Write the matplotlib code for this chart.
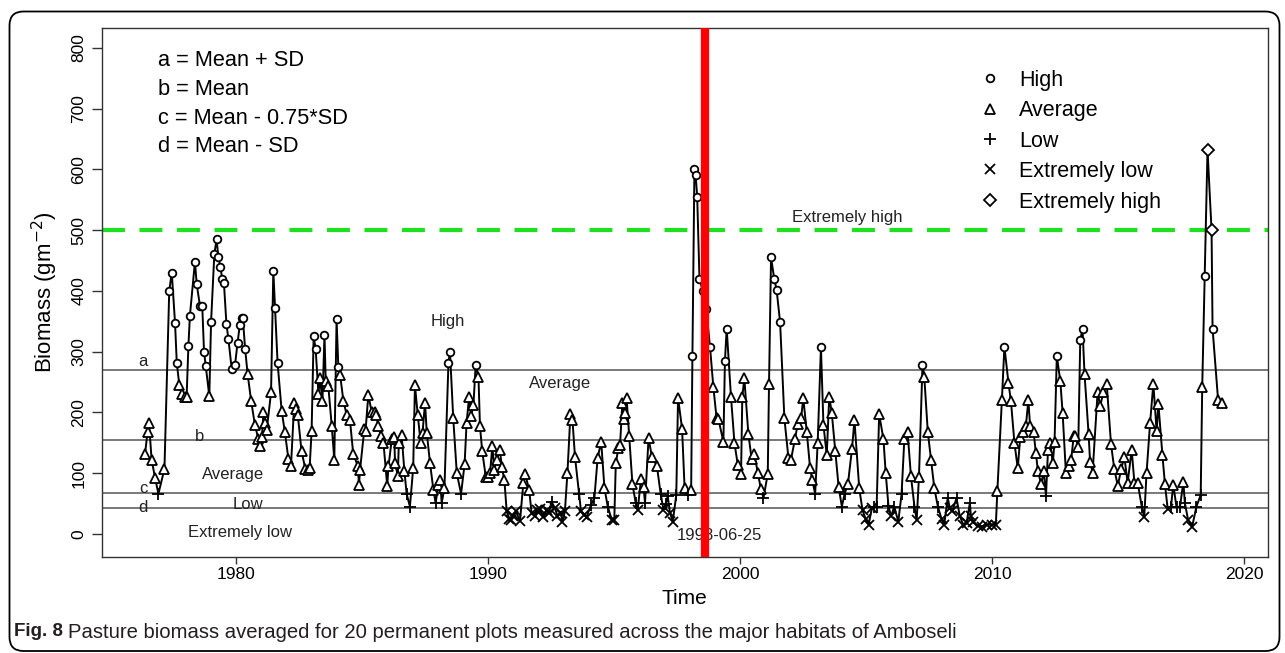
import matplotlib
matplotlib.use('Agg')
import matplotlib.pyplot as plt
from matplotlib.patches import FancyBboxPatch
from matplotlib.lines import Line2D
from matplotlib.transforms import IdentityTransform

plt.rcParams['font.family'] = ['Liberation Sans', 'DejaVu Sans']

# ---------------- data ----------------
years = [
    1976.39, 1976.49, 1976.55, 1976.65, 1976.79, 1976.92, 1977.16, 1977.35, 1977.45, 1977.58,
    1977.65, 1977.75, 1977.87, 1977.98, 1978.04, 1978.11, 1978.17, 1978.37, 1978.44, 1978.57,
    1978.66, 1978.73, 1978.80, 1978.94, 1979.01, 1979.14, 1979.23, 1979.30, 1979.38, 1979.45,
    1979.52, 1979.62, 1979.70, 1979.83, 1979.96, 1980.06, 1980.15, 1980.22, 1980.27, 1980.36,
    1980.46, 1980.60, 1980.75, 1980.89, 1980.95, 1981.03, 1981.09, 1981.15, 1981.22, 1981.39,
    1981.48, 1981.55, 1981.65, 1981.81, 1981.94, 1982.08, 1982.18, 1982.31, 1982.38, 1982.45,
    1982.60, 1982.75, 1982.85, 1982.92, 1983.00, 1983.08, 1983.16, 1983.27, 1983.33, 1983.43,
    1983.51, 1983.56, 1983.66, 1983.80, 1983.90, 1983.99, 1984.06, 1984.13, 1984.26, 1984.39,
    1984.52, 1984.65, 1984.83, 1984.88, 1984.92,
    1985.09, 1985.14, 1985.25, 1985.38, 1985.51, 1985.56, 1985.65, 1985.75, 1985.85, 1986.00,
    1986.05, 1986.18, 1986.28, 1986.31, 1986.42, 1986.46, 1986.57, 1986.68, 1986.77, 1986.90,
    1987.03, 1987.10, 1987.21, 1987.33, 1987.40, 1987.50, 1987.57, 1987.70, 1987.83, 1987.92,
    1988.03, 1988.10, 1988.16, 1988.27, 1988.43, 1988.49, 1988.62, 1988.76, 1988.93, 1989.07,
    1989.15, 1989.25, 1989.33, 1989.42, 1989.51, 1989.62, 1989.68, 1989.77, 1989.91, 1989.99,
    1990.08, 1990.17, 1990.25, 1990.34, 1990.47, 1990.55, 1990.65, 1990.74, 1990.85, 1990.92,
    1991.00, 1991.10, 1991.27, 1991.40, 1991.47, 1991.63, 1991.73, 1991.87, 1991.95, 1992.06,
    1992.19, 1992.33, 1992.42, 1992.52, 1992.66, 1992.75, 1992.89, 1992.95, 1993.05, 1993.15,
    1993.27, 1993.35, 1993.45,
    1993.61, 1993.69, 1993.82, 1993.91, 1994.09, 1994.22, 1994.35, 1994.49, 1994.62, 1994.75,
    1994.91, 1995.01, 1995.07, 1995.17, 1995.24, 1995.33, 1995.40, 1995.44, 1995.50, 1995.60,
    1995.73, 1995.86, 1995.94, 1996.07, 1996.17, 1996.23, 1996.37, 1996.50, 1996.70, 1996.85,
    1996.96, 1997.05, 1997.13, 1997.22, 1997.33, 1997.47, 1997.54, 1997.70, 1997.80, 1997.93,
    1998.06, 1998.11, 1998.19, 1998.24, 1998.30, 1998.39, 1998.52, 1998.66, 1998.81, 1998.94,
    1999.07, 1999.14, 1999.34, 1999.40, 1999.47, 1999.64, 1999.78, 1999.91, 2000.04, 2000.09,
    2000.17, 2000.33, 2000.46, 2000.57, 2000.70, 2000.83, 2000.93,
    2001.10, 2001.15, 2001.23, 2001.36, 2001.45, 2001.59, 2001.76, 2001.92, 2002.02, 2002.18,
    2002.29, 2002.42, 2002.51, 2002.65, 2002.78, 2002.87, 2002.98, 2003.08, 2003.21, 2003.31,
    2003.44, 2003.54, 2003.64, 2003.78, 2003.91, 2004.04, 2004.15, 2004.28, 2004.44, 2004.54,
    2004.73, 2004.86, 2004.98, 2005.10, 2005.23, 2005.32, 2005.42, 2005.52, 2005.69, 2005.78,
    2005.89, 2005.99, 2006.12, 2006.28, 2006.41, 2006.52, 2006.65, 2006.78, 2006.92, 2007.01,
    2007.10, 2007.24, 2007.31, 2007.45, 2007.58, 2007.71, 2007.85, 2008.00, 2008.10, 2008.24,
    2008.33, 2008.42, 2008.59, 2008.72, 2008.86, 2008.99, 2009.12, 2009.16, 2009.26, 2009.43,
    2009.59, 2009.79, 2009.99, 2010.15,
    2010.21, 2010.39, 2010.49, 2010.65, 2010.75, 2010.89, 2011.02, 2011.12, 2011.24, 2011.34,
    2011.44, 2011.51, 2011.65, 2011.74, 2011.82, 2011.95, 2012.05, 2012.14, 2012.22, 2012.31,
    2012.41, 2012.48, 2012.57, 2012.71, 2012.80, 2012.93, 2013.04, 2013.14, 2013.24, 2013.30,
    2013.42, 2013.50, 2013.59, 2013.67, 2013.83, 2013.89, 2013.99, 2014.19, 2014.29, 2014.42,
    2014.55, 2014.72, 2014.85, 2014.99, 2015.12, 2015.25, 2015.38, 2015.54, 2015.65, 2015.78,
    2015.94, 2016.04, 2016.13, 2016.27, 2016.40, 2016.53, 2016.60, 2016.76, 2016.86, 2016.97,
    2017.10, 2017.19, 2017.32, 2017.46, 2017.59, 2017.65, 2017.78, 2017.94, 2018.11, 2018.28,
    2018.34, 2018.44, 2018.55, 2018.71, 2018.75, 2018.97, 2019.12,
]
biomass = [
    132, 168, 182, 122, 92, 66, 107, 400, 430, 347,
    281, 245, 230, 226, 226, 309, 359, 448, 411, 375,
    375, 300, 276, 227, 349, 461, 485, 455, 440, 420,
    413, 345, 320, 271, 278, 314, 344, 356, 355, 305,
    263, 219, 179, 156, 145, 160, 201, 183, 171, 233,
    433, 371, 281, 203, 167, 123, 111, 216, 205, 196,
    136, 107, 105, 108, 170, 325, 304, 231, 256, 219,
    327, 251, 244, 177, 122, 353, 275, 262, 219, 196,
    188, 132, 112, 81, 105,
    172, 170, 229, 201, 201, 196, 177, 161, 150, 79,
    111, 156, 160, 116, 96, 149, 163, 104, 66, 45,
    108, 245, 196, 149, 166, 216, 166, 116, 73, 51,
    80, 89, 51, 75, 282, 300, 190, 100, 66, 115,
    183, 226, 194, 212, 278, 259, 177, 136, 94, 94,
    100, 144, 105, 122, 138, 110, 88, 37, 25, 23,
    30, 37, 22, 83, 99, 73, 34, 29, 40, 41,
    28, 40, 35, 53, 42, 30, 35, 20, 37, 100,
    197, 188, 127,
    66, 37, 31, 28, 48, 59, 125, 152, 75, 45,
    23, 23, 116, 141, 147, 216, 189, 199, 223, 161,
    82, 51, 40, 90, 77, 51, 158, 127, 112, 66,
    40, 50, 62, 35, 20, 64, 224, 173, 75, 64,
    73, 292, 601, 590, 555, 420, 400, 370, 307, 242,
    190, 189, 152, 284, 338, 226, 149, 114, 98, 226,
    256, 165, 123, 132, 101, 74, 59,
    99, 247, 455, 419, 402, 348, 190, 125, 122, 156,
    181, 190, 223, 167, 108, 88, 66, 149, 307, 179,
    130, 226, 199, 136, 78, 45, 66, 82, 139, 187,
    75, 39, 25, 15, 42, 44, 45, 197, 156, 100,
    46, 29, 45, 20, 66, 156, 167, 96, 45, 23,
    94, 278, 259, 168, 122, 75, 45, 24, 15, 59,
    42, 37, 59, 29, 15, 18, 51, 29, 19, 13,
    12, 15, 15, 15,
    70, 220, 308, 249, 218, 149, 108, 160, 168, 177,
    220, 177, 167, 133, 103, 82, 103, 62, 138, 149,
    116, 152, 293, 251, 199, 101, 111, 122, 161, 161,
    143, 319, 337, 263, 165, 119, 101, 234, 210, 234,
    247, 148, 107, 79, 106, 127, 84, 138, 84, 84,
    45, 28, 100, 182, 247, 169, 214, 130, 82, 41,
    44, 81, 44, 45, 86, 51, 23, 12, 45, 64,
    242, 424, 632, 500, 338, 220, 215,
]
extreme_high_years = [2018.55, 2018.71]   # points drawn with the diamond symbol

level_a = 269      # Mean + SD
level_b = 154      # Mean
level_c = 67.5     # Mean - 0.75*SD
level_d = 43       # Mean - SD
extreme_level = 500
event_year = 1998.62
event_label = '1998-06-25'

categories = ['High', 'Average', 'Low', 'Extremely low', 'Extremely high']
cat_marker = {'High': 'o', 'Average': '^', 'Low': '+', 'Extremely low': 'x', 'Extremely high': 'D'}
cat_size = {'High': 5.5, 'Average': 7, 'Low': 8, 'Extremely low': 6.5, 'Extremely high': 6}


def classify(yr, v):
    if yr in extreme_high_years:
        return 'Extremely high'
    if v > level_a:
        return 'High'
    if v > level_c:
        return 'Average'
    if v > level_d:
        return 'Low'
    return 'Extremely low'


# ---------------- figure ----------------
W, H = 1285, 653
fig = plt.figure(figsize=(W / 100, H / 100), dpi=100)
ax_left, ax_right, ax_top, ax_bottom = 101.7, 1268, 28.3, 557
ax = fig.add_axes([ax_left / W, 1 - ax_bottom / H, (ax_right - ax_left) / W, (ax_bottom - ax_top) / H])

# threshold lines
for lv in [level_a, level_b, level_c, level_d]:
    ax.axhline(lv, color='#555555', lw=1.1, zorder=1)
ax.axhline(extreme_level, color='#1FE01F', lw=3, ls=(0, (5.5, 3.5)), zorder=1)

# series line
ax.plot(years, biomass, color='black', lw=1.4, zorder=2)

# markers by category
cats = [classify(y, v) for y, v in zip(years, biomass)]
for c in categories:
    xs = [y for y, k in zip(years, cats) if k == c]
    vs = [v for v, k in zip(biomass, cats) if k == c]
    ax.plot(xs, vs, ls='none', marker=cat_marker[c], ms=cat_size[c], mfc='white',
            mec='black', mew=1.3, zorder=3)

# event line
ax.axvline(event_year, color='#FF0000', lw=6, zorder=4)

ax.set_xlim(1974.67, 2020.95)
ax.set_ylim(-38, 832)
ax.set_xticks([1980, 1990, 2000, 2010, 2020])
ax.set_yticks([0, 100, 200, 300, 400, 500, 600, 700, 800])
ax.tick_params(axis='both', direction='out', width=1, colors='#333333',
               labelsize=12.5, labelcolor='black')
ax.tick_params(axis='x', length=5, pad=2.5)
ax.tick_params(axis='y', length=7, pad=4)
for lab in ax.get_yticklabels():
    lab.set_rotation(90)
    lab.set_va('center')
for sp in ax.spines.values():
    sp.set_color('#333333')
    sp.set_linewidth(1)

ax.set_xlabel('Time', fontsize=15, labelpad=5)
ax.set_ylabel('Biomass (gm$^{-2}$)', fontsize=16, labelpad=8)

# annotations inside the plot
tkw = dict(fontsize=12, color='#222222', ha='center', va='center')
ax.text(1976.31, 283, 'a', **tkw)
ax.text(1978.57, 161, 'b', **tkw)
ax.text(1976.31, 74, 'c', **tkw)
ax.text(1976.31, 43, 'd', **tkw)
ax.text(1979.88, 97, 'Average', **tkw)
ax.text(1980.48, 48, 'Low', **tkw)
ax.text(1980.16, 2, 'Extremely low', **tkw)
ax.text(1988.41, 349, 'High', **tkw)
ax.text(1992.86, 248, 'Average', **tkw)
ax.text(2004.25, 520, 'Extremely high', **tkw)
ax.text(1999.2, -3, event_label, **tkw)

# definitions (top-left)
defs = ['a = Mean + SD', 'b = Mean', 'c = Mean - 0.75*SD', 'd = Mean - SD']
for i, s in enumerate(defs):
    ax.text((158 - ax_left) / (ax_right - ax_left), (ax_bottom - (60.7 + i * 28.7)) / (ax_bottom - ax_top), s,
            transform=ax.transAxes, fontsize=15.7, ha='left', va='center')

# legend (top-right)
handles = [Line2D([], [], ls='none', marker=cat_marker[c], ms=cat_size[c], mfc='white', mec='black', mew=1.3)
           for c in categories]
ax.legend(handles, categories, loc='upper left', frameon=False, fontsize=15.5,
          bbox_to_anchor=((965 - ax_left) / (ax_right - ax_left), (ax_bottom - 61) / (ax_bottom - ax_top)),
          handletextpad=0.6, labelspacing=0.44, handlelength=1.5, borderaxespad=0)

# caption
fig.canvas.draw()
r = fig.canvas.get_renderer()
t1 = fig.text(14 / W, 1 - 632 / H, 'Fig. 8', fontsize=13.5, fontweight='bold', color='#231F20', va='center')
bb = t1.get_window_extent(renderer=r)
fig.text((bb.x1 + 5) / W, 1 - 632 / H,
         'Pasture biomass averaged for 20 permanent plots measured across the major habitats of Amboseli',
         fontsize=14.6, color='#231F20', va='center')

# outer rounded frame
frame = FancyBboxPatch((9.5, 2), 1270, H - 2 - 11.5, boxstyle='round,pad=0,rounding_size=14',
                       transform=IdentityTransform(), fill=False, ec='black', lw=1.3)
fig.patches.append(frame)

fig.savefig('out.png', dpi=100)
